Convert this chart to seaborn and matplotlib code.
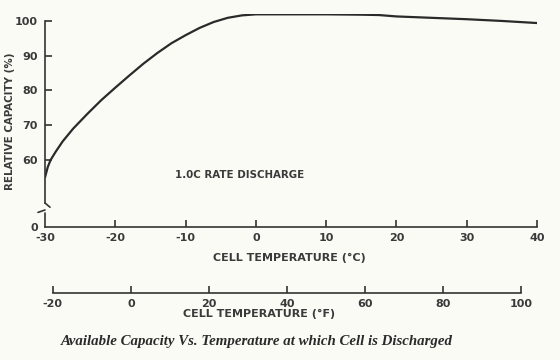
import pandas as pd
import matplotlib.pyplot as plt
import seaborn as sns

# curve: cell temperature (deg C) vs relative capacity (%)
temp_c = [-30, -29.6, -29.2, -28.5, -27.5, -26, -24, -22, -20, -18, -16, -14, -12, -10,
          -8, -6, -4, -2, 0, 5, 10, 15, 17.5, 20, 25, 30, 35, 40]
capacity = [55, 58, 60, 62.3, 65.3, 69, 73.2, 77.2, 80.8, 84.3, 87.7, 90.8, 93.6, 95.9,
            98, 99.7, 100.9, 101.6, 101.9, 101.9, 101.9, 101.8, 101.7, 101.3, 100.9, 100.5, 100.0, 99.4]

c_ticks = [-30, -20, -10, 0, 10, 20, 30, 40]
f_ticks = [-20, 0, 20, 40, 60, 80, 100]
y_ticks = [60, 70, 80, 90, 100]
y_labels = ["60", "70", "80", "90", "100"]

df = pd.DataFrame({"temp": temp_c, "cap": capacity})

ink = "#333333"
txt = "#3a3a3a"
paper = "#fbfbf6"

sns.set_style("ticks")
plt.rcParams["font.family"] = ["DejaVu Sans"]

fig = plt.figure(figsize=(5.6, 3.6), dpi=100, facecolor=paper)

# main axes (deg C)
ax = fig.add_axes([45 / 560, 133 / 360, 492 / 560, 213 / 360])
ax.set_facecolor(paper)
sns.lineplot(data=df, x="temp", y="cap", ax=ax, color="#2a2a2a", linewidth=1.6)

y_bottom = 40.7
ax.set_xlim(-30, 40)
ax.set_ylim(y_bottom, 102)
ax.set_xticks(c_ticks)
ax.set_xticklabels([str(t) for t in c_ticks])
ax.set_yticks([y_bottom] + y_ticks)
ax.set_yticklabels(["0"] + y_labels)
ax.yaxis.get_major_ticks()[0].tick1line.set_visible(False)
ax.xaxis.get_major_ticks()[0].tick1line.set_visible(False)
ax.tick_params(direction="in", length=5, width=1.2, colors=ink, labelsize=8, pad=5)
ax.tick_params(axis="x", pad=4)
for lab in ax.get_xticklabels() + ax.get_yticklabels():
    lab.set_fontweight("bold")
    lab.set_color(txt)

sns.despine(ax=ax)
for s in ["left", "bottom"]:
    ax.spines[s].set_color(ink)
    ax.spines[s].set_linewidth(1.2)
ax.spines["left"].set_bounds(47.6, 100)
ax.set_xlabel("")
ax.set_ylabel("")

# axis break on the left spine
px = 1 / 492
tr = ax.get_yaxis_transform()
ax.plot([0, 0], [y_bottom, 44.8], transform=tr, color=ink, lw=1.2, clip_on=False)
ax.plot([0, 5 * px], [47.6, 46.4], transform=tr, color=ink, lw=1.2, clip_on=False)
ax.plot([-7 * px, 0], [44.9, 45.6], transform=tr, color=ink, lw=1.2, clip_on=False)

ax.text(-11.5, 55.7, "1.0C RATE DISCHARGE", fontsize=7.4, fontweight="bold", color=txt,
        va="center", ha="left")

fig.text(289 / 560, 1 - 258 / 360, "CELL TEMPERATURE (°C)", fontsize=8, fontweight="bold",
         color=txt, ha="center", va="center")
fig.text(10 / 560, 1 - 121 / 360, "RELATIVE CAPACITY (%)", fontsize=7.4, fontweight="bold",
         color=txt, ha="center", va="center", rotation=90)

# secondary axis (deg F), aligned with the deg C scale
axf = fig.add_axes([45 / 560, 67 / 360, 492 / 560, 0.001])
axf.set_facecolor("none")
axf.set_xlim(-30 * 9 / 5 + 32, 40 * 9 / 5 + 32)
axf.set_yticks([])
axf.set_xticks(f_ticks)
axf.set_xticklabels([str(t) for t in f_ticks])
axf.tick_params(axis="x", direction="in", length=5, width=1.2, colors=ink, labelsize=8, pad=4)
for lab in axf.get_xticklabels():
    lab.set_fontweight("bold")
    lab.set_color(txt)
sns.despine(ax=axf, left=True)
axf.spines["bottom"].set_bounds(-20, 100)
axf.spines["bottom"].set_color(ink)
axf.spines["bottom"].set_linewidth(1.2)

fig.text(259 / 560, 1 - 314 / 360, "CELL TEMPERATURE (°F)", fontsize=8, fontweight="bold",
         color=txt, ha="center", va="center")

fig.text(257 / 560, 1 - 342 / 360,
         "Available Capacity Vs. Temperature at which Cell is Discharged",
         family="Liberation Serif", style="italic", fontweight="bold", fontsize=10.7,
         color="#2a2a2a", ha="center", va="center")

fig.savefig("out.png", dpi=100, facecolor=paper)
